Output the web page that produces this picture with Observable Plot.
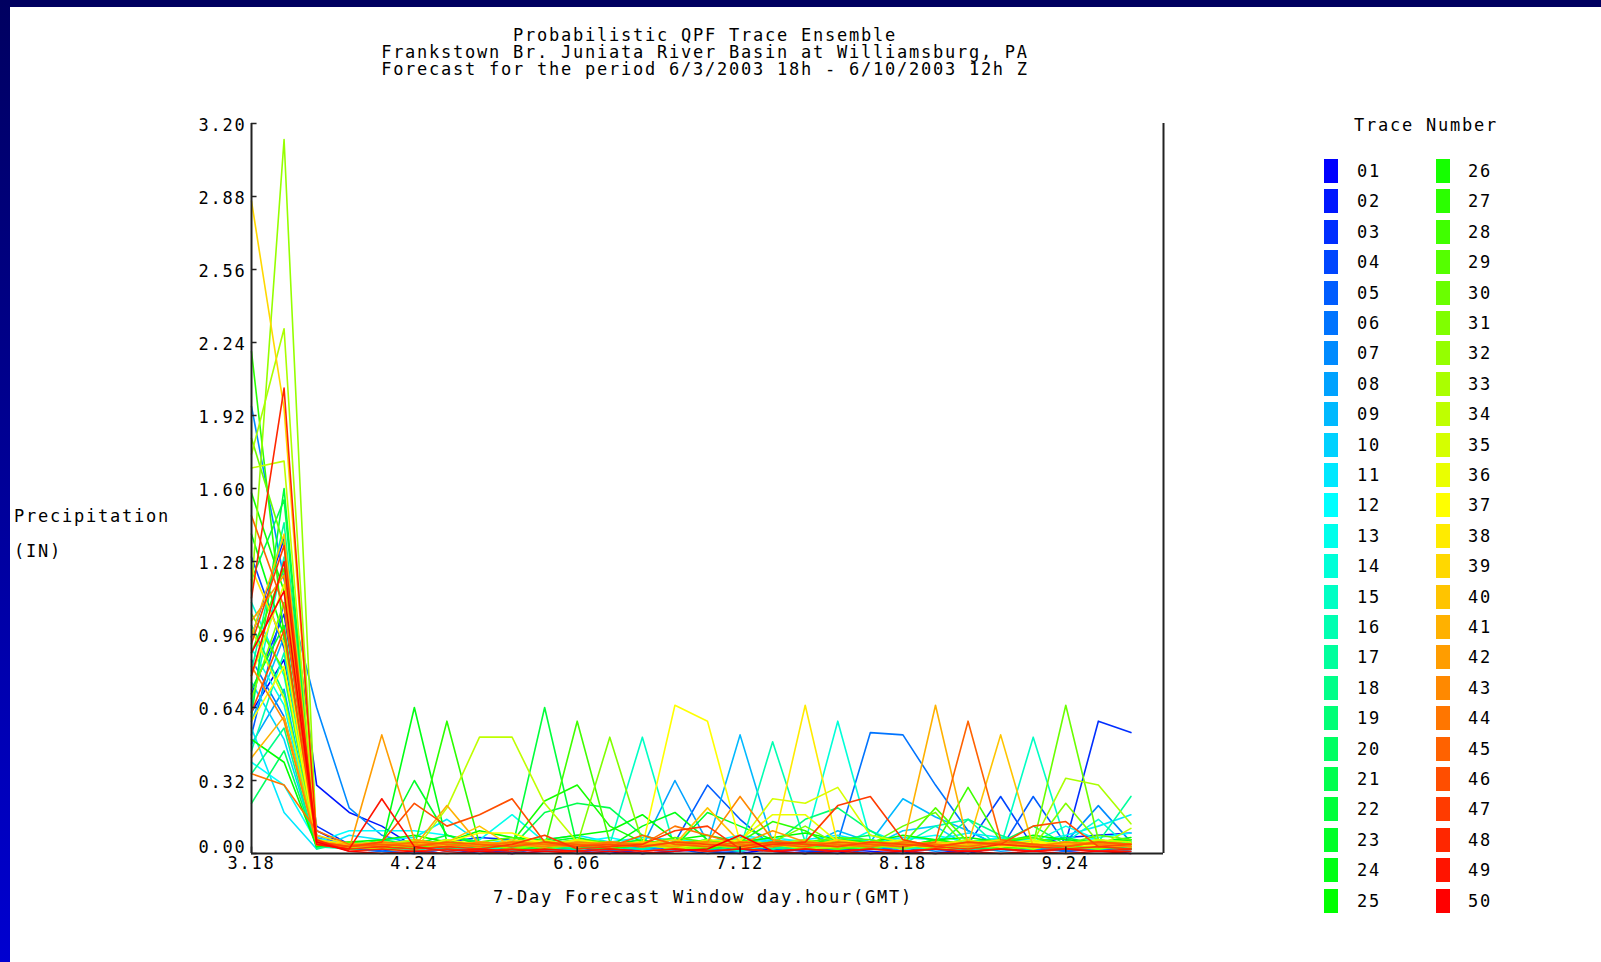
<!DOCTYPE html>
<html><head><meta charset="utf-8">
<script src="https://cdn.jsdelivr.net/npm/d3@7"></script>
<script src="https://cdn.jsdelivr.net/npm/@observablehq/plot@0.6"></script>
<style>
html,body{margin:0;padding:0;background:#fff;}
#page{position:relative;width:1601px;height:962px;overflow:hidden;background:#fff;font-family:"DejaVu Sans Mono",monospace;color:#000;}
#topbar{position:absolute;left:0;top:0;width:1601px;height:7px;background:#000060;}
#leftbar{position:absolute;left:0;top:0;width:10px;height:962px;background:linear-gradient(#000060,#0000d0);}
.t{position:absolute;white-space:pre;font-size:17px;letter-spacing:1.76px;line-height:1;}
.c{transform:translate(-50%,-50%);}
.l{transform:translate(0,-50%);}
.sw{position:absolute;width:14px;height:24px;}
#chart{position:absolute;left:0;top:0;}
</style></head>
<body><div id="page"><div id="topbar"></div><div id="leftbar"></div><div id="chart"></div></div>
<script>
// ---- data: precipitation (IN) per 6-h step, one array per trace ----
const t01=[0.62,0.85,0.10,0.03,0.01,0.00,0.02,0.01,0.00,0.03,0.01,0.00,0.02,0.04,0.01,0.00,0.02,0.01,0.00,0.03,0.01,0.00,0.02,0.05,0.03,0.01,0.02,0.02];
const t02=[0.95,1.38,0.30,0.18,0.12,0.03,0.01,0.02,0.00,0.01,0.03,0.02,0.00,0.01,0.02,0.04,0.01,0.00,0.02,0.01,0.00,0.03,0.01,0.02,0.04,0.07,0.08,0.09];
const t03=[0.70,1.05,0.12,0.04,0.03,0.02,0.05,0.07,0.06,0.03,0.01,0.02,0.00,0.01,0.03,0.02,0.01,0.00,0.02,0.03,0.01,0.02,0.00,0.03,0.01,0.05,0.58,0.53];
const t04=[1.30,0.90,0.05,0.02,0.01,0.03,0.02,0.00,0.01,0.02,0.04,0.01,0.03,0.02,0.00,0.01,0.03,0.02,0.01,0.04,0.02,0.03,0.04,0.25,0.03,0.01,0.02,0.00];
const t05=[0.52,1.10,0.08,0.03,0.02,0.04,0.03,0.05,0.04,0.02,0.01,0.03,0.02,0.05,0.30,0.15,0.03,0.01,0.02,0.00,0.01,0.03,0.02,0.02,0.25,0.04,0.01,0.03];
const t06=[0.85,0.60,0.06,0.02,0.01,0.00,0.02,0.01,0.03,0.02,0.00,0.01,0.02,0.03,0.01,0.02,0.04,0.03,0.05,0.53,0.52,0.30,0.10,0.03,0.02,0.01,0.03,0.02];
const t07=[1.96,1.20,0.64,0.20,0.08,0.04,0.02,0.03,0.01,0.02,0.03,0.01,0.02,0.04,0.02,0.01,0.03,0.02,0.01,0.02,0.03,0.01,0.02,0.04,0.03,0.05,0.21,0.05];
const t08=[0.48,0.72,0.04,0.02,0.03,0.01,0.02,0.04,0.03,0.01,0.02,0.03,0.03,0.32,0.05,0.02,0.01,0.03,0.02,0.04,0.01,0.02,0.03,0.01,0.02,0.03,0.01,0.02];
const t09=[0.58,0.95,0.07,0.03,0.02,0.04,0.01,0.02,0.03,0.01,0.02,0.03,0.02,0.01,0.04,0.52,0.05,0.03,0.10,0.05,0.24,0.16,0.10,0.03,0.02,0.04,0.03,0.01];
const t10=[0.75,0.50,0.03,0.05,0.04,0.06,0.03,0.02,0.05,0.04,0.06,0.03,0.02,0.04,0.05,0.03,0.06,0.04,0.02,0.03,0.10,0.12,0.03,0.06,0.04,0.02,0.05,0.06];
const t11=[0.55,0.18,0.02,0.08,0.06,0.07,0.15,0.05,0.04,0.06,0.08,0.05,0.07,0.06,0.04,0.07,0.05,0.06,0.08,0.05,0.07,0.06,0.09,0.07,0.05,0.08,0.12,0.17];
const t12=[0.40,0.30,0.05,0.10,0.10,0.10,0.08,0.04,0.06,0.03,0.05,0.07,0.04,0.06,0.05,0.08,0.06,0.04,0.07,0.05,0.06,0.08,0.05,0.07,0.06,0.04,0.07,0.09];
const t13=[0.90,0.65,0.03,0.04,0.02,0.05,0.03,0.06,0.17,0.05,0.03,0.04,0.06,0.03,0.05,0.04,0.07,0.05,0.03,0.10,0.04,0.05,0.03,0.07,0.05,0.12,0.06,0.04];
const t14=[1.10,0.78,0.04,0.02,0.03,0.01,0.04,0.02,0.03,0.05,0.02,0.03,0.04,0.02,0.03,0.05,0.02,0.05,0.58,0.06,0.03,0.02,0.04,0.03,0.02,0.05,0.15,0.02];
const t15=[0.65,1.30,0.05,0.03,0.02,0.04,0.02,0.03,0.01,0.02,0.03,0.04,0.51,0.02,0.03,0.01,0.04,0.02,0.03,0.05,0.02,0.03,0.01,0.03,0.51,0.05,0.02,0.03];
const t16=[0.45,0.88,0.03,0.02,0.04,0.03,0.05,0.02,0.03,0.04,0.02,0.03,0.05,0.03,0.04,0.02,0.49,0.05,0.03,0.02,0.04,0.12,0.15,0.02,0.03,0.04,0.02,0.03];
const t17=[0.80,1.45,0.06,0.03,0.04,0.02,0.03,0.05,0.02,0.04,0.03,0.02,0.04,0.03,0.05,0.04,0.03,0.02,0.04,0.05,0.03,0.04,0.02,0.05,0.03,0.04,0.05,0.25];
const t18=[0.35,0.55,0.02,0.05,0.03,0.02,0.04,0.03,0.05,0.02,0.04,0.03,0.02,0.05,0.03,0.04,0.02,0.03,0.05,0.02,0.04,0.03,0.15,0.08,0.03,0.02,0.04,0.03];
const t19=[1.00,0.70,0.04,0.02,0.03,0.05,0.02,0.04,0.03,0.02,0.05,0.03,0.04,0.02,0.03,0.05,0.04,0.15,0.20,0.10,0.02,0.05,0.03,0.02,0.04,0.03,0.02,0.04];
const t20=[0.22,0.45,0.03,0.04,0.02,0.03,0.05,0.02,0.04,0.03,0.02,0.04,0.03,0.05,0.02,0.03,0.04,0.02,0.05,0.03,0.04,0.02,0.03,0.05,0.12,0.04,0.03,0.02];
const t21=[1.20,1.55,0.05,0.03,0.06,0.04,0.08,0.05,0.03,0.18,0.22,0.20,0.08,0.04,0.06,0.03,0.05,0.04,0.06,0.08,0.05,0.04,0.06,0.03,0.05,0.07,0.04,0.06];
const t22=[0.60,1.60,0.05,0.03,0.02,0.04,0.03,0.05,0.02,0.64,0.03,0.02,0.04,0.03,0.05,0.02,0.04,0.03,0.02,0.05,0.03,0.04,0.02,0.03,0.05,0.02,0.04,0.03];
const t23=[0.72,1.00,0.04,0.02,0.05,0.32,0.08,0.04,0.03,0.05,0.07,0.04,0.06,0.03,0.18,0.12,0.06,0.03,0.05,0.04,0.03,0.06,0.04,0.05,0.03,0.04,0.06,0.03];
const t24=[1.40,0.95,0.05,0.04,0.03,0.64,0.05,0.03,0.04,0.02,0.05,0.03,0.12,0.18,0.06,0.03,0.04,0.02,0.03,0.05,0.04,0.02,0.03,0.04,0.02,0.05,0.03,0.04];
const t25=[0.50,0.40,0.03,0.05,0.06,0.08,0.05,0.10,0.07,0.06,0.08,0.10,0.17,0.06,0.08,0.05,0.07,0.09,0.06,0.05,0.08,0.06,0.07,0.05,0.08,0.06,0.05,0.07];
const t26=[1.58,1.15,0.06,0.03,0.05,0.04,0.06,0.03,0.05,0.23,0.30,0.12,0.05,0.04,0.06,0.03,0.05,0.04,0.06,0.05,0.03,0.06,0.04,0.05,0.07,0.04,0.05,0.06];
const t27=[2.20,0.95,0.04,0.02,0.03,0.03,0.58,0.04,0.02,0.03,0.05,0.02,0.04,0.03,0.02,0.05,0.14,0.10,0.02,0.03,0.05,0.02,0.04,0.03,0.02,0.05,0.03,0.02];
const t28=[0.88,1.25,0.05,0.03,0.04,0.02,0.05,0.03,0.04,0.03,0.58,0.05,0.03,0.04,0.02,0.05,0.03,0.04,0.06,0.03,0.05,0.04,0.29,0.05,0.03,0.04,0.02,0.05];
const t29=[1.05,0.80,0.04,0.05,0.03,0.06,0.04,0.05,0.07,0.04,0.06,0.05,0.04,0.07,0.05,0.06,0.04,0.05,0.07,0.06,0.04,0.20,0.05,0.06,0.07,0.04,0.08,0.06];
const t30=[1.82,1.35,0.05,0.04,0.02,0.05,0.03,0.04,0.02,0.05,0.03,0.04,0.05,0.02,0.03,0.04,0.05,0.03,0.02,0.04,0.12,0.18,0.02,0.05,0.04,0.65,0.06,0.04];
const t31=[0.68,1.10,0.04,0.03,0.05,0.02,0.04,0.03,0.05,0.02,0.04,0.51,0.05,0.03,0.04,0.02,0.05,0.12,0.04,0.02,0.05,0.03,0.04,0.02,0.03,0.22,0.05,0.03];
const t32=[1.15,3.13,0.04,0.03,0.02,0.04,0.03,0.05,0.02,0.04,0.03,0.05,0.04,0.02,0.03,0.05,0.04,0.06,0.03,0.04,0.02,0.05,0.03,0.04,0.05,0.03,0.02,0.04];
const t33=[1.75,2.30,0.05,0.04,0.03,0.05,0.04,0.03,0.05,0.04,0.06,0.03,0.05,0.04,0.03,0.05,0.04,0.06,0.03,0.05,0.04,0.03,0.05,0.04,0.05,0.33,0.30,0.13];
const t34=[1.69,1.72,0.04,0.03,0.02,0.01,0.20,0.51,0.51,0.22,0.05,0.03,0.04,0.02,0.05,0.03,0.04,0.02,0.03,0.05,0.04,0.02,0.03,0.04,0.02,0.05,0.03,0.11];
const t35=[0.98,0.68,0.05,0.03,0.04,0.06,0.03,0.05,0.04,0.06,0.03,0.05,0.04,0.03,0.06,0.05,0.24,0.22,0.29,0.08,0.05,0.04,0.06,0.03,0.05,0.04,0.06,0.05];
const t36=[0.78,1.18,0.06,0.04,0.05,0.03,0.06,0.04,0.05,0.03,0.06,0.04,0.05,0.03,0.04,0.06,0.17,0.17,0.05,0.04,0.06,0.03,0.05,0.04,0.06,0.03,0.05,0.04];
const t37=[0.58,0.82,0.05,0.04,0.03,0.04,0.05,0.09,0.09,0.04,0.03,0.05,0.03,0.65,0.58,0.05,0.04,0.03,0.05,0.04,0.03,0.05,0.04,0.03,0.05,0.04,0.03,0.04];
const t38=[1.25,0.92,0.04,0.03,0.05,0.04,0.03,0.05,0.04,0.03,0.05,0.04,0.03,0.05,0.04,0.03,0.03,0.65,0.04,0.05,0.03,0.04,0.05,0.03,0.04,0.05,0.03,0.04];
const t39=[2.86,1.95,0.08,0.04,0.03,0.05,0.04,0.03,0.06,0.04,0.05,0.03,0.04,0.06,0.03,0.05,0.04,0.03,0.06,0.04,0.05,0.03,0.04,0.06,0.03,0.05,0.04,0.03];
const t40=[0.95,1.40,0.06,0.03,0.04,0.03,0.05,0.12,0.03,0.05,0.04,0.03,0.05,0.04,0.20,0.05,0.04,0.03,0.05,0.04,0.03,0.05,0.04,0.52,0.03,0.05,0.04,0.03];
const t41=[0.42,0.60,0.05,0.04,0.05,0.03,0.21,0.04,0.05,0.03,0.04,0.05,0.03,0.04,0.05,0.03,0.04,0.05,0.03,0.04,0.03,0.65,0.04,0.05,0.03,0.04,0.05,0.03];
const t42=[1.02,1.22,0.05,0.02,0.52,0.06,0.04,0.03,0.05,0.04,0.03,0.05,0.04,0.03,0.05,0.04,0.10,0.05,0.04,0.03,0.05,0.04,0.03,0.05,0.04,0.03,0.05,0.04];
const t43=[0.82,0.58,0.04,0.03,0.05,0.04,0.03,0.05,0.04,0.03,0.05,0.04,0.03,0.05,0.05,0.25,0.06,0.04,0.03,0.05,0.04,0.03,0.05,0.04,0.03,0.05,0.04,0.03];
const t44=[0.35,0.30,0.10,0.04,0.03,0.05,0.04,0.03,0.05,0.04,0.03,0.05,0.04,0.12,0.08,0.04,0.03,0.05,0.04,0.03,0.05,0.04,0.03,0.05,0.04,0.03,0.05,0.04];
const t45=[1.48,1.08,0.05,0.03,0.04,0.03,0.05,0.04,0.03,0.05,0.04,0.03,0.08,0.04,0.03,0.05,0.04,0.03,0.05,0.04,0.03,0.05,0.58,0.06,0.04,0.03,0.05,0.04];
const t46=[0.62,0.98,0.05,0.03,0.05,0.22,0.12,0.17,0.24,0.05,0.03,0.04,0.03,0.05,0.04,0.03,0.05,0.04,0.03,0.05,0.04,0.03,0.05,0.04,0.12,0.14,0.03,0.04];
const t47=[0.92,1.35,0.04,0.02,0.03,0.02,0.03,0.02,0.04,0.08,0.02,0.03,0.04,0.10,0.12,0.02,0.04,0.05,0.21,0.25,0.06,0.03,0.02,0.04,0.03,0.02,0.03,0.02];
const t48=[1.12,2.04,0.06,0.01,0.02,0.01,0.02,0.01,0.02,0.01,0.01,0.02,0.01,0.02,0.01,0.02,0.01,0.02,0.01,0.02,0.01,0.02,0.01,0.02,0.01,0.02,0.01,0.02];
const t49=[0.78,1.28,0.04,0.02,0.24,0.03,0.01,0.02,0.01,0.02,0.01,0.02,0.01,0.02,0.01,0.02,0.01,0.02,0.01,0.02,0.01,0.02,0.01,0.02,0.01,0.02,0.01,0.01];
const t50=[0.88,1.15,0.05,0.01,0.00,0.01,0.00,0.01,0.00,0.01,0.00,0.01,0.00,0.01,0.02,0.08,0.01,0.00,0.01,0.00,0.01,0.00,0.01,0.00,0.01,0.00,0.01,0.00];

const traceIds=["01","02","03","04","05","06","07","08","09","10","11","12","13","14","15","16","17","18","19","20","21","22","23","24","25","26","27","28","29","30","31","32","33","34","35","36","37","38","39","40","41","42","43","44","45","46","47","48","49","50"];
const xTickSteps=[0,5,10,15,20,25];
const xTickLabels=["3.18","4.24","6.06","7.12","8.18","9.24"];
const yTicks=[0.00,0.32,0.64,0.96,1.28,1.60,1.92,2.24,2.56,2.88,3.20];
const titleLines=["Probabilistic QPF Trace Ensemble","Frankstown Br. Juniata River Basin at Williamsburg, PA","Forecast for the period 6/3/2003 18h - 6/10/2003 12h Z"];
const xLabel="7-Day Forecast Window day.hour(GMT)";
const yLabelLines=["Precipitation","(IN)"];
const legendTitle="Trace Number";

// ---- build ----
const traces=[t01,t02,t03,t04,t05,t06,t07,t08,t09,t10,t11,t12,t13,t14,t15,t16,t17,t18,t19,t20,t21,t22,t23,t24,t25,t26,t27,t28,t29,t30,t31,t32,t33,t34,t35,t36,t37,t38,t39,t40,t41,t42,t43,t44,t45,t46,t47,t48,t49,t50];
const rows=traces.flatMap((vals,k)=>vals.map((v,s)=>({trace:traceIds[k],step:s,value:v})));
const hue=d3.scaleLinear([1,12,25,37,50],[240,180,120,60,0]);
const traceColors=traceIds.map((id,i)=>d3.hsl(hue(i+1),1,0.5).formatHex());
const fmtY=d=>d.toFixed(2);

const chart=Plot.plot({
  width:1601,height:962,
  marginLeft:251,marginRight:438,marginTop:123,marginBottom:109,
  style:{background:"transparent",fontFamily:"DejaVu Sans Mono, monospace",fontSize:"17px",letterSpacing:"1.76px",color:"#000"},
  x:{domain:[0,28]},
  y:{domain:[0,3.2]},
  color:{type:"ordinal",domain:traceIds,range:traceColors},
  marks:[
    Plot.line(rows,{x:"step",y:"value",z:"trace",stroke:"trace",strokeWidth:1.6}),
    Plot.ruleX([0,28],{stroke:"#222",strokeWidth:2}),
    Plot.ruleY([0],{stroke:"#222",strokeWidth:2}),
    Plot.ruleY(yTicks,{x1:0,x2:0.17,stroke:"#222",strokeWidth:1.5}),
    Plot.ruleX(xTickSteps,{y1:0,y2:0.028,stroke:"#222",strokeWidth:1.5}),
    Plot.axisY({ticks:yTicks.filter(d=>d>0),tickSize:0,tickPadding:5,dy:2,tickFormat:fmtY,label:null,fill:"#000"}),
    Plot.axisY({ticks:[0],tickSize:0,tickPadding:5,dy:-6,tickFormat:fmtY,label:null,fill:"#000"}),
    Plot.axisX({ticks:xTickSteps,tickSize:0,tickPadding:3,tickFormat:d=>xTickLabels[xTickSteps.indexOf(d)],label:null,fill:"#000"})
  ]
});
const page=document.getElementById("page");
document.getElementById("chart").appendChild(chart);

function addText(str,x,y,cls){const d=document.createElement("div");d.className="t "+cls;d.textContent=str;d.style.left=x+"px";d.style.top=y+"px";page.appendChild(d);return d;}
titleLines.forEach((s,i)=>addText(s,705,35+i*17,"c"));
addText(xLabel,703,897,"c");
addText(yLabelLines[0],14,516,"l");
addText(yLabelLines[1],14,551,"l");
addText(legendTitle,1354,125,"l");
traceIds.forEach((id,i)=>{
  const col=i<25?0:1,row=i%25;
  const sw=document.createElement("div");sw.className="sw";
  sw.style.left=(col?1436:1324)+"px";sw.style.top=(159+row*30.4)+"px";sw.style.background=traceColors[i];
  page.appendChild(sw);
  addText(id,col?1468:1357,171+row*30.4,"l");
});
</script></body></html>
